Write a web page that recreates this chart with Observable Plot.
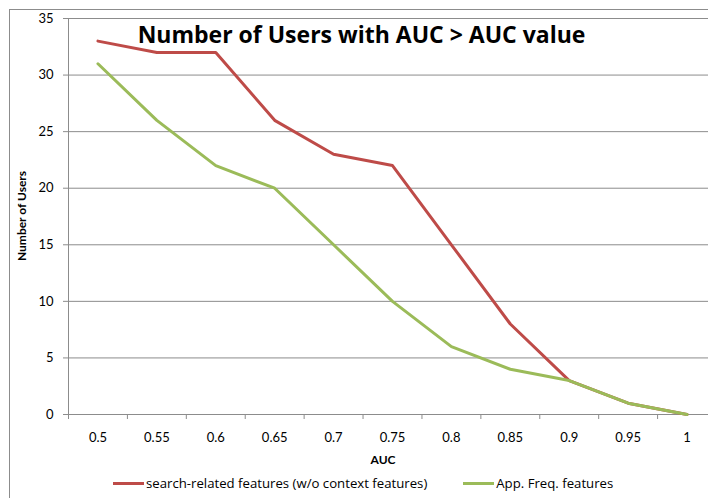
<!DOCTYPE html>
<html>
<head>
<meta charset="utf-8">
<script src="https://cdn.jsdelivr.net/npm/d3@7"></script>
<script src="https://cdn.jsdelivr.net/npm/@observablehq/plot@0.6"></script>
<style>
  html, body { margin: 0; padding: 0; background: #fff; }
  #wrap { position: relative; width: 708px; height: 498px; overflow: hidden; font-family: Lato, "Open Sans", sans-serif; }
  #border { position: absolute; left: 9px; top: 9px; width: 740px; height: 520px; border: 1px solid #8c8c8c; box-sizing: border-box; }
  #chart { position: absolute; left: 0; top: 0; }
  #title { position: absolute; left: 0; width: 723px; top: 18px; text-align: center; font-family: "Open Sans", Lato, sans-serif; font-weight: bold; font-size: 23px; color: #000; white-space: nowrap; letter-spacing: 0; }
  #xlabel { position: absolute; left: 0; width: 766px; top: 452px; text-align: center; font-weight: bold; font-size: 12px; color: #000; }
  #ylabel { position: absolute; left: 21px; top: 216px; transform: translate(-50%, -50%) rotate(-90deg); font-weight: bold; font-size: 12px; white-space: nowrap; color: #000; }
  #legend { position: absolute; top: 474px; left: 113px; font-family: "Open Sans", Lato, sans-serif; font-size: 13.2px; color: #000; white-space: nowrap; display: flex; align-items: center; }
  .sw { display: inline-block; width: 31px; height: 3px; margin-right: 2px; }
  .item { display: flex; align-items: center; }
</style>
</head>
<body>
<div id="wrap">
  <div id="border"></div>
  <div id="chart"></div>
  <div id="title"></div>
  <div id="xlabel"></div>
  <div id="ylabel"></div>
  <div id="legend"></div>
</div>
<script>
const auc = [0.5, 0.55, 0.6, 0.65, 0.7, 0.75, 0.8, 0.85, 0.9, 0.95, 1];
const aucLabels = ["0.5", "0.55", "0.6", "0.65", "0.7", "0.75", "0.8", "0.85", "0.9", "0.95", "1"];
const searchRelated = [33, 32, 32, 26, 23, 22, 15, 8, 3, 1, 0];
const appFreq = [31, 26, 22, 20, 15, 10, 6, 4, 3, 1, 0];
const yTicks = [0, 5, 10, 15, 20, 25, 30, 35];
const seriesNames = ["search-related features (w/o context features)", "App. Freq. features"];
const seriesColors = ["#BE4B48", "#9BBB59"];
const titleText = "Number of Users with AUC > AUC value";
const xTitle = "AUC";
const yTitle = "Number of Users";

const seriesValues = [searchRelated, appFreq];
const data = [];
seriesNames.forEach((name, s) => auc.forEach((a, i) => data.push({series: name, auc: a, users: seriesValues[s][i]})));

const step = auc[1] - auc[0];
const boundaries = [...auc.map(a => a - step / 2), auc[auc.length - 1] + step / 2];
const labelMap = new Map(auc.map((a, i) => [a, aucLabels[i]]));
const gray = "#8c8c8c";

const chart = Plot.plot({
  width: 708,
  height: 470,
  marginTop: 18,
  marginBottom: 56,
  marginLeft: 68,
  marginRight: 0,
  style: {fontFamily: "Lato, 'Open Sans', sans-serif", fontSize: "13px", color: "#000", background: "transparent", overflow: "visible"},
  x: {domain: [boundaries[0], boundaries[boundaries.length - 1]], range: [68, 716]},
  y: {domain: [0, 35], range: [414, 18]},
  color: {domain: seriesNames, range: seriesColors},
  marks: [
    Plot.gridY(yTicks, {stroke: gray, strokeOpacity: 1}),
    Plot.axisY(yTicks, {tickSize: 5, tickPadding: 10, label: null, stroke: gray, fill: "#000", fontSize: 13}),
    Plot.axisX(boundaries, {tickSize: 5, tickFormat: () => "", label: null, stroke: gray}),
    Plot.axisX(auc, {tickSize: 0, tickPadding: 18, tickFormat: d => labelMap.get(d), label: null, fill: "#000", fontSize: 13}),
    Plot.ruleX([boundaries[0]], {stroke: gray}),
    Plot.ruleY([0], {stroke: gray}),
    Plot.line(data, {x: "auc", y: "users", z: "series", stroke: "series", strokeWidth: 3, strokeLinejoin: "round"})
  ]
});
document.getElementById("chart").appendChild(chart);

document.getElementById("title").textContent = titleText;
document.getElementById("xlabel").textContent = xTitle;
document.getElementById("ylabel").textContent = yTitle;
const legend = document.getElementById("legend");
seriesNames.forEach((name, i) => {
  const item = document.createElement("span");
  item.className = "item";
  item.style.marginRight = i === 0 ? "36px" : "0";
  const sw = document.createElement("span");
  sw.className = "sw";
  sw.style.background = seriesColors[i];
  const t = document.createElement("span");
  t.textContent = name;
  item.appendChild(sw);
  item.appendChild(t);
  legend.appendChild(item);
});
</script>
</body>
</html>
